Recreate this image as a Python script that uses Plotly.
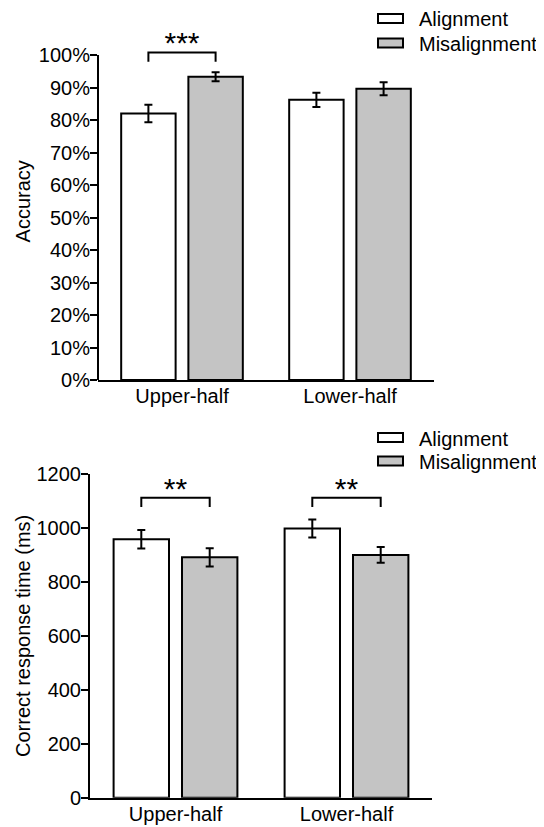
import plotly.graph_objects as go

# ---------------- data ----------------
categories = ["Upper-half", "Lower-half"]
series_names = ["Alignment", "Misalignment"]
series_colors = ["#ffffff", "#c4c4c4"]

acc_alignment = [82.0, 86.2]
acc_alignment_err = [2.7, 2.2]
acc_misalignment = [93.3, 89.6]
acc_misalignment_err = [1.4, 2.0]

rt_alignment = [958, 998]
rt_alignment_err = [34, 33]
rt_misalignment = [891, 900]
rt_misalignment_err = [34, 29]

acc_ticks = list(range(0, 101, 10))
acc_ticklabels = [f"{v}%" for v in acc_ticks]
rt_ticks = list(range(0, 1201, 200))
rt_ticklabels = [str(v) for v in rt_ticks]

# significance: category index, label, bracket top, leg length, label y
acc_sig_idx = [0]
acc_sig_label = ["***"]
acc_sig_top = [100.8]
acc_sig_leg = [2.9]
acc_sig_text_y = [102.8]

rt_sig_idx = [0, 1]
rt_sig_label = ["**", "**"]
rt_sig_top = [1112, 1112]
rt_sig_leg = [34, 34]
rt_sig_text_y = [1136, 1136]

# ---------------- layout helpers ----------------
PAGE_OFF = 8            # default body margin of the html page
W, H = 544 - PAGE_OFF, 827 - PAGE_OFF
FONT = "Liberation Sans, Arial, Helvetica, sans-serif"
BARGAP = 0.2
BARGROUPGAP = 0.19
OFF = (1 - BARGAP) / 4  # center offset of each bar within group


def px_x(x):
    return (x - PAGE_OFF) / W


def px_y(y):
    return 1 - (y - PAGE_OFF) / H


fig = go.Figure()

panels = [
    dict(xa="x", ya="y", xo="x3",
         vals=[acc_alignment, acc_misalignment],
         errs=[acc_alignment_err, acc_misalignment_err],
         sig=(acc_sig_idx, acc_sig_label, acc_sig_top, acc_sig_leg, acc_sig_text_y),
         star_size=30),
    dict(xa="x2", ya="y2", xo="x4",
         vals=[rt_alignment, rt_misalignment],
         errs=[rt_alignment_err, rt_misalignment_err],
         sig=(rt_sig_idx, rt_sig_label, rt_sig_top, rt_sig_leg, rt_sig_text_y),
         star_size=30),
]

for p in panels:
    for name, color, v, e in zip(series_names, series_colors, p["vals"], p["errs"]):
        fig.add_trace(go.Bar(
            x=categories, y=v, name=name,
            marker=dict(color=color, line=dict(color="black", width=2)),
            error_y=dict(type="data", array=e, color="black", thickness=2, width=4),
            xaxis=p["xa"], yaxis=p["ya"], showlegend=False, hoverinfo="skip",
        ))
    idxs, labels, tops, legs, tys = p["sig"]
    for i, lab, top, leg, ty in zip(idxs, labels, tops, legs, tys):
        fig.add_trace(go.Scatter(
            x=[i - OFF, i - OFF, i + OFF, i + OFF],
            y=[top - leg, top, top, top - leg],
            mode="lines", line=dict(color="black", width=2),
            xaxis=p["xo"], yaxis=p["ya"], cliponaxis=False,
            showlegend=False, hoverinfo="skip",
        ))
        fig.add_trace(go.Scatter(
            x=[i], y=[ty], mode="text", text=[lab],
            textposition="middle center",
            textfont=dict(size=p["star_size"], color="black", family=FONT),
            xaxis=p["xo"], yaxis=p["ya"], cliponaxis=False,
            showlegend=False, hoverinfo="skip",
        ))

# ---------------- axes ----------------
common_x = dict(type="category", range=[-0.5, 1.5], showline=True, linewidth=2,
                linecolor="black", ticks="", showgrid=False, zeroline=False,
                ticklabelstandoff=-3,
                tickfont=dict(size=20, color="black", family=FONT), automargin=False)
common_y = dict(ticks="outside", ticklen=7, tickwidth=2, tickcolor="black",
                showgrid=False, zeroline=False, ticklabelstandoff=-4,
                tickfont=dict(size=20, color="black", family=FONT),
                automargin=False)
overlay_x = dict(range=[-0.5, 1.5], visible=False, showgrid=False, zeroline=False)

ACC_MAX = 110  # axis extends above 100% to leave room for the significance marks
top_px_0, top_px_100 = 380, 55
top_px_max = top_px_0 - (top_px_0 - top_px_100) * ACC_MAX / 100

top_x = [px_x(98), px_x(434)]
top_y = [px_y(top_px_0), px_y(top_px_max)]
bot_x = [px_x(90), px_x(432)]
bot_y = [px_y(797.7), px_y(474)]

fig.update_layout(
    width=W, height=H,
    margin=dict(l=0, r=0, t=0, b=0),
    paper_bgcolor="white", plot_bgcolor="rgba(0,0,0,0)",
    barmode="group", bargap=BARGAP, bargroupgap=BARGROUPGAP,
    font=dict(family=FONT, size=20, color="black"),
    xaxis=dict(common_x, domain=top_x, anchor="y"),
    yaxis=dict(common_y, domain=top_y, anchor="x", range=[0, ACC_MAX],
               showline=False,
               tickvals=acc_ticks, ticktext=acc_ticklabels,
               title=dict(text="Accuracy", font=dict(size=20, family=FONT), standoff=2)),
    xaxis2=dict(common_x, domain=bot_x, anchor="y2"),
    yaxis2=dict(common_y, domain=bot_y, anchor="x2", range=[0, 1200],
                showline=True, linewidth=2, linecolor="black",
                tickvals=rt_ticks, ticktext=rt_ticklabels,
                title=dict(text="Correct response time (ms)", font=dict(size=20, family=FONT), standoff=0)),
    xaxis3=dict(overlay_x, overlaying="x", anchor="y"),
    xaxis4=dict(overlay_x, overlaying="x2", anchor="y2"),
)

# top y-axis line only up to 100%
fig.add_shape(type="line", xref="x domain", yref="y", x0=0, x1=0, y0=0, y1=100,
              line=dict(color="black", width=2))

# ---------------- legends (drawn manually as boxes + text) ----------------
legend_rows_top = [18.5, 43]
legend_rows_bot = [437.5, 461]
box_x0, box_x1, box_h = 378, 403, 9
text_x = 418
for rows in (legend_rows_top, legend_rows_bot):
    for yc, name, color in zip(rows, series_names, series_colors):
        fig.add_shape(type="rect", xref="paper", yref="paper",
                      x0=px_x(box_x0), x1=px_x(box_x1),
                      y0=px_y(yc - box_h / 2), y1=px_y(yc + box_h / 2),
                      line=dict(color="black", width=2), fillcolor=color)
        fig.add_annotation(text=name, xref="paper", yref="paper",
                           x=px_x(text_x), y=px_y(yc + 1), xanchor="left", yanchor="middle",
                           borderpad=0, showarrow=False,
                           font=dict(size=20, color="black", family=FONT))

fig.write_html("out.html")
